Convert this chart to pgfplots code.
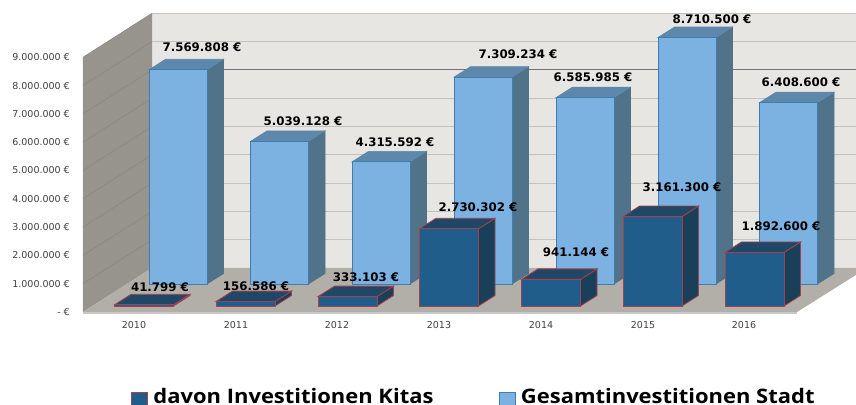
\documentclass[border=0pt]{standalone}
\usepackage{fontspec}
\setmainfont{DejaVu Sans}
\newfontfamily\legfont[FakeStretch=1.098]{Open Sans}
\usepackage{pgfplots}
\pgfplotsset{compat=1.18}
\definecolor{wallback}{HTML}{E7E6E3}
\definecolor{wallleft}{HTML}{97948D}
\definecolor{floorc}{HTML}{B2AFA8}
\definecolor{gridb}{HTML}{C4C2BD}
\definecolor{gridl}{HTML}{8A877F}
\definecolor{lf}{HTML}{7CB2E2}
\definecolor{ls}{HTML}{507389}
\definecolor{lt}{HTML}{5E88AB}
\definecolor{lb}{HTML}{3F7DAF}
\definecolor{df}{HTML}{215D8A}
\definecolor{ds}{HTML}{1A3F58}
\definecolor{dt}{HTML}{204766}
\definecolor{db}{HTML}{A2414F}
\pgfplotsset{
  lightfront/.style={fill=lf,draw=lb,line width=0.9pt},
  lightside/.style={fill=ls,draw=ls,line width=0.6pt},
  lighttop/.style={fill=lt,draw=lt,line width=0.6pt},
  darkfront/.style={fill=df,draw=db,line width=0.8pt},
  darkside/.style={fill=ds,draw=db,line width=0.8pt},
  darktop/.style={fill=dt,draw=db,line width=0.8pt},
}
% #1 left x, #2 width, #3 base, #4 value (million EUR), #5 light|dark
\newcommand\cube[5]{%
  \pgfmathsetmacro\xa{#1}\pgfmathsetmacro\xb{#1+#2}%
  \pgfmathsetmacro\xc{#1+#2+16.5}\pgfmathsetmacro\xd{#1+16.5}%
  \pgfmathsetmacro\ya{#3}\pgfmathsetmacro\yb{#3+#4}%
  \pgfmathsetmacro\yc{#3+#4+0.37}\pgfmathsetmacro\ye{#3+0.37}%
  \edef\temp{\noexpand\addplot[#5side,forget plot] coordinates {(\xb,\ya) (\xc,\ye) (\xc,\yc) (\xb,\yb)} -- cycle;
  \noexpand\addplot[#5top,forget plot] coordinates {(\xa,\yb) (\xb,\yb) (\xc,\yc) (\xd,\yc)} -- cycle;
  \noexpand\addplot[#5front,forget plot] coordinates {(\xa,\ya) (\xb,\ya) (\xb,\yb) (\xa,\yb)} -- cycle;}\temp}
% gridline on both walls
\newcommand\gl[2]{%
  \pgfmathsetmacro\yy{#1+1.555}%
  \edef\temp{\noexpand\addplot[draw=gridl,line width=0.6pt,forget plot] coordinates {(83,#1) (152,\yy)};
  \noexpand\addplot[draw=#2,line width=1.1pt,forget plot] coordinates {(152,\yy) (856,\yy)};}\temp}
\begin{document}
\begin{tikzpicture}
\begin{axis}[
  scale only axis, width=773pt, height=312pt,
  xmin=83, xmax=856, ymin=0, ymax=11.025,
  clip=false,
  axis line style={draw=none},
  major tick length=0pt,
  xtick={134,236,337,439,541,643,744},
  xticklabels={2010,2011,2012,2013,2014,2015,2016},
  ytick={0,1,2,3,4,5,6,7,8,9},
  yticklabels={- €,1.000.000 €,2.000.000 €,3.000.000 €,4.000.000 €,5.000.000 €,6.000.000 €,7.000.000 €,8.000.000 €,9.000.000 €},
  xticklabel style={anchor=center,yshift=-13pt,font=\fontsize{9.5}{10}\selectfont,text=black!75,inner sep=0pt},
  yticklabel style={anchor=east,xshift=-13pt,font=\fontsize{9.5}{10}\selectfont,text=black!75,inner sep=0pt},
  legend columns=2,
  legend style={at={(axis cs:131,-2.98)},anchor=west,draw=none,fill=none,inner sep=0pt,outer sep=0pt,
    font=\legfont\bfseries\fontsize{20}{22}\selectfont,
    /tikz/every even column/.append style={column sep=63pt}},
  legend cell align=left,
  legend image code/.code={\draw[#1] (0pt,-9pt) rectangle (16pt,4pt); \path[draw=none,fill=none] (0pt,0pt) -- (20pt,0pt);},
]
\addlegendimage{fill=df,draw=db,line width=0.9pt}
\addlegendentry{davon Investitionen Kitas}
\addlegendimage{fill=lf,draw=lb,line width=0.9pt}
\addlegendentry{Gesamtinvestitionen Stadt}
% walls and floor
\addplot[fill=wallback,draw=none,forget plot] coordinates {(152,1.555) (856,1.555) (856,10.555) (152,10.555)} -- cycle;
\addplot[fill=wallleft,draw=none,forget plot] coordinates {(83,0) (152,1.555) (152,10.555) (83,9)} -- cycle;
\addplot[fill=floorc,draw=none,forget plot] coordinates {(83,0) (797,0) (856,1.31) (856,1.555) (152,1.555)} -- cycle;
\addplot[draw=black!22,line width=1.4pt,forget plot] coordinates {(83,-0.03) (797,-0.03)};
\gl{1}{gridb}\gl{2}{gridb}\gl{3}{gridb}\gl{4}{gridb}\gl{5}{gridb}\gl{6}{gridb}
\gl{7}{black!55}\gl{8}{gridb}\gl{9}{gridb}
% Gesamtinvestitionen Stadt (back row)
\cube{149}{58}{0.99}{7.569808}{light}
\cube{250.5}{58}{0.99}{5.039128}{light}
\cube{352}{58}{0.99}{4.315592}{light}
\cube{454}{58}{0.99}{7.309234}{light}
\cube{556}{58}{0.99}{6.585985}{light}
\cube{658}{58}{0.99}{8.710500}{light}
\cube{759.5}{58}{0.99}{6.408600}{light}
% davon Investitionen Kitas (front row)
\cube{114.5}{59}{0.212}{0.041799}{dark}
\cube{216}{59}{0.212}{0.156586}{dark}
\cube{318}{59}{0.212}{0.333103}{dark}
\cube{419.5}{59}{0.212}{2.730302}{dark}
\cube{521.5}{59}{0.212}{0.941144}{dark}
\cube{623}{59}{0.212}{3.161300}{dark}
\cube{725}{59}{0.212}{1.892600}{dark}
% value labels
\addplot[draw=none,forget plot,point meta=explicit symbolic,nodes near coords,
  every node near coord/.style={anchor=center,inner sep=0pt,text=black,
    font=\bfseries\fontsize{11.8}{12}\selectfont}]
 coordinates {
 (202,9.364)[7.569.808 €]
 (303,6.749)[5.039.128 €]
 (395,6.007)[4.315.592 €]
 (518,9.117)[7.309.234 €]
 (593,8.304)[6.585.985 €]
 (712,10.353)[8.710.500 €]
 (801,8.127)[6.408.600 €]
 (160,0.883)[41.799 €]
 (256,0.919)[156.586 €]
 (366,1.237)[333.103 €]
 (478,3.710)[2.730.302 €]
 (576,2.120)[941.144 €]
 (682,4.417)[3.161.300 €]
 (781,3.039)[1.892.600 €]
 };
\coordinate (BL) at (axis cs:0,-3.286);
\coordinate (TR) at (axis cs:856,11.025);
\end{axis}
\pgfresetboundingbox
\path[use as bounding box] (BL) rectangle (TR);
\end{tikzpicture}
\end{document}
